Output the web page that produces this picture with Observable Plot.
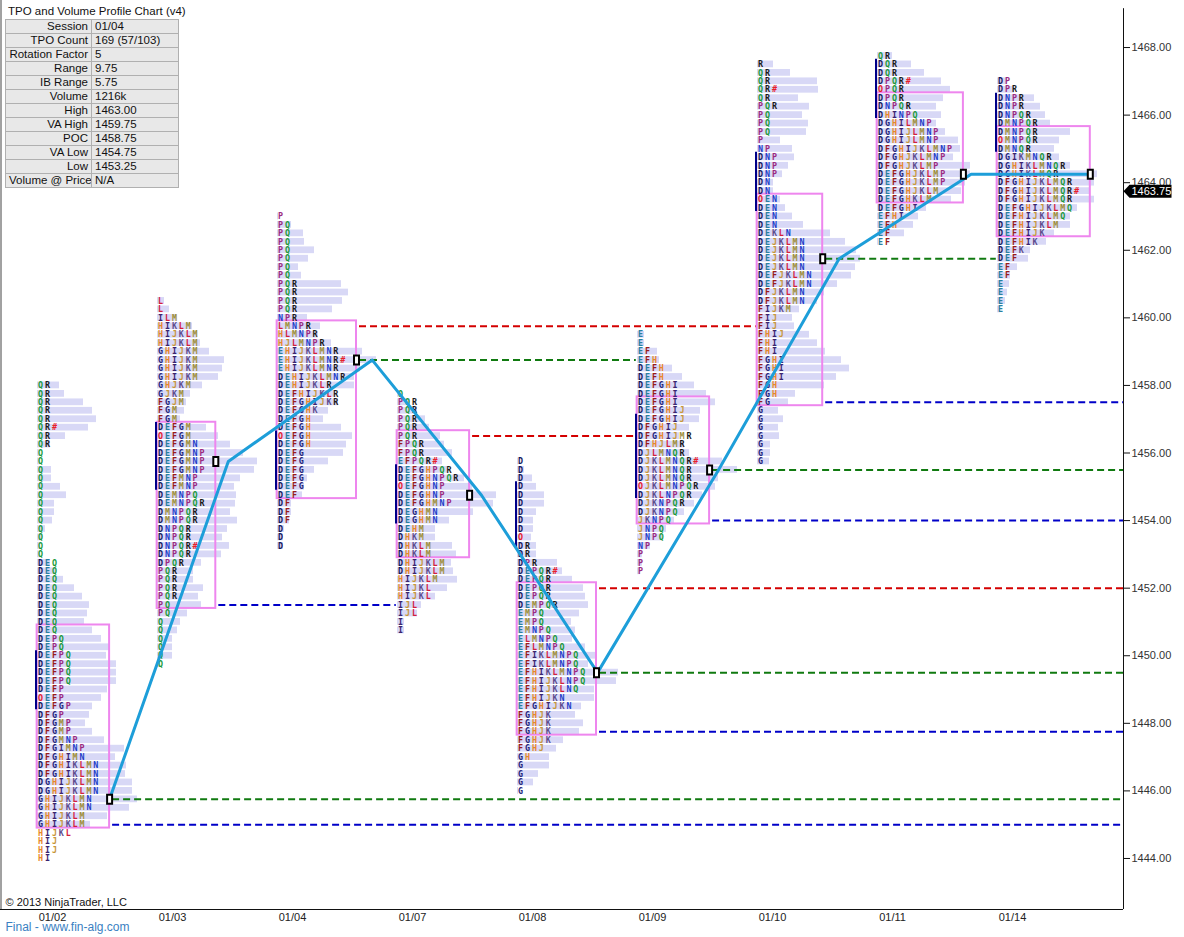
<!DOCTYPE html>
<html><head><meta charset="utf-8">
<script src="https://cdn.jsdelivr.net/npm/d3@7"></script>
<script src="https://cdn.jsdelivr.net/npm/@observablehq/plot@0.6"></script>
<style>
body{margin:0;background:#fff;font-family:"Liberation Sans",Arial,sans-serif;}
#wrap{position:relative;width:1184px;height:937px;overflow:hidden;background:#fff;}
#info{position:absolute;left:5px;top:4px;font-size:11.5px;color:#111;font-family:"Liberation Sans",Arial,sans-serif;}
#info .t{padding-left:3px;height:15px;line-height:15px;white-space:nowrap;}
#info table{border-collapse:collapse;background:#e8e8e8;table-layout:fixed;width:173px;}
#info td{border:1px solid #b0b0b0;padding:0 3px;height:13px;line-height:13px;white-space:nowrap;overflow:hidden;box-sizing:border-box;}
#info td.k{text-align:right;width:86px;}
#info td.v{width:87px;}
</style></head><body><div id="wrap"></div>
<script>
// ---------- data ----------
const sessions = ["01/02","01/03","01/04","01/07","01/08","01/09","01/10","01/11","01/14"];
const sessionTop = [1458.0, 1460.5, 1463.0, 1457.75, 1455.75, 1459.5, 1467.5, 1467.75, 1467.0];
const vaHigh = [1450.75, 1456.75, 1459.75, 1456.5, 1452.0, 1457.5, 1463.5, 1466.5, 1465.5];
const pocPrice = [1445.75, 1455.75, 1458.75, 1454.75, 1449.5, 1455.5, 1461.75, 1464.25, 1464.25];
const vaLow = [1445.0, 1451.5, 1454.75, 1453.0, 1447.75, 1454.0, 1457.5, 1463.5, 1462.5];
const ibHigh = [1450.0, 1456.75, 1456.5, 1455.5, 1455.0, 1457.0, 1464.75, 1467.5, 1466.5];
const ibLow = [1448.5, 1455.0, 1455.0, 1454.0, 1453.25, 1454.75, 1463.25, 1466.0, 1465.0];
const pocLineTime = [0.60, 0.59, 0.79, 0.70, 0.667, 0.675, 0.68, 0.78, 0.78];
const lastPrice = 1463.75;

const tpo0 = "QR QR QR QR QR QR# QR QR Q Q Q Q Q Q Q Q Q Q Q Q Q DEQ DEQ DEQ DEQ DEQ DEQ DEQ DEQ DEQ DEPQ DEPQ DEFPQ DEFPQ DEFPQ DEFPQ DEFP OEFP DEFGP DFGP DFGMP DFGMP DFGMNP DFGIMNP DFGHIMN DFGHIKLMN DFGHIKLMN DGHIJKLMN DGHIJKLMN GHIJKLMN GHIJKLMN GHIJKLM GHIJKLM HIJKL HIJ HIJ HI";
const tpo1 = "L L ILM HIKLM HIJKLM HIJKLM GHIJKM GHIJKM GHIJKM GHIJKM GHJKM GJKM FGJM FGM FGM DEFGM OEFGM DEFGMN DEFGMNP DEFGMNP DEFGMNP DEFMNP DEFMNP DEMNPQ DEMNPQR DMNPQR DMNPQR DNPQR DNPQR DNPQR# DNPQR DPQR PQR PQR PQR PQR PQ PQ Q Q Q Q Q Q";
const tpo2 = "P PQ PQ PQ PQ PQ PQ PQ PQR PQR PQR PQR NPR LMNPR HLMNPR HJLMNPR EHIJKLMNR EHIJKLMNR# EHIJKLMNR DEHIJKLMNR DEHIJKLR DEFHIJKLR DEFGHIJKR DEFGHK DEFGH DEFGH OEFGH DEFGH DEFG DEFG DEFG DEFG DEFG DEF DF DF DF D D D";
const tpo3 = "Q PQR PQR PQR PQR PQR FPQR FPQR EFPQR# DEFGHPQR DEFGHNPQR OEFGHNP DEFGHNP DEFGHMNP DEGHMN DEGHMN DEHM DHKM DHKLM DHKLM DHIJKLM DHIJKLM HIJKLM HIJKL HIJKL IJL IJL I I";
const tpo4 = "D D D D D D D D D O DR DR DPR DEPQR# DEPQR DEPQR DEPQR DEMPQR EMPQ EMPQ EMNPQ ELMNPQ EFLMNPQ EFIKLMNPQ EFIKLMNPQ EFHIKLMNPQ EFHIJKLNPQ EFHIJKLNQ EFHIJKN EFGHIJKN FGHJK FGHJK FGHJK FGHJK FGHJ GH G G G G";
const tpo5 = "E E EF EFH DEFH DEFH DEFGHI DEFGHI DEFGHI DEFGHIJ DEFGHIJ DFGHIJ DFGHIJMR DFHJLMR DJLMNQR DJKLMNQR# DJKLMNQR DJKLMNQR OJKLMNPQR DJKLNPQR DJKNPQR DJKNPQ JKNPQ JNPQ JNPQ NP P P P";
const tpo6 = "R QR QR QR# QR PQR PQ PQ PQ P NP DNP DNP DNP DN DN OEN DEN DEN DEN DEKLN DEJKLMN DEJKLMN DEJKLMN DEJKLMN DEFJKLMN DEFJKLMN DFJKLMN DFJKLMN FIJKM FIJ FIJ FHIJ FHI FHI FGHI FGHI FGHI FGH FGH FG G G G G G G G";
const tpo7 = "QR DQR DQR DPQR# OPQR DPQR DNPQR DHINPQ DGHILMNP DGHIJLMNP DGHIJLMNP DFGHIJKLMNP DFGHJKLMNP DFGHJKLMP DEFGHJKLMP DEFGHJKLMP DEFGHJKLM DEFGHKLM DEFGHI EFHI EFH EF EF";
const tpo8 = "DP DPR DNPR DNPR DNPQR DMNPQR DMNPQR OMNPQR DMNQR DGIKMNQR DGHIKLMNQR DGHIKLMQR DFGHIJKLMQR DFGHIJKLMQR# DFGHIJKLMQR DEFGHIJKLMQ DEFHIJKLMQ DEFHIJKLM DEFHIJK DEFHIK DEFK DEF EF EF E E E E";
const tpoRows = [tpo0,tpo1,tpo2,tpo3,tpo4,tpo5,tpo6,tpo7,tpo8].map(s => s.split(" "));

// relative volume at each price row (top to bottom)
const vol0 = [22,27,46,55,59,51,28,13,2,3,14,14,23,29,17,17,15,8,5,3,3,13,19,26,37,45,52,50,47,55,64,72,69,79,79,79,70,64,55,52,48,55,67,87,78,89,88,95,95,100,92,70,53,0,0,0,0];
const vol1 = [7,12,19,35,40,43,52,67,65,61,45,33,29,27,23,49,61,73,86,100,97,83,77,79,78,73,80,70,65,72,64,44,36,36,46,41,44,30,23,20,15,15,15,3];
const vol2 = [1,14,26,27,37,31,21,24,64,71,65,55,30,43,41,54,85,99,83,77,77,57,61,51,46,64,75,69,66,51,37,30,27,25,14,14,12,7,6,6];
const vol3 = [2,13,20,28,32,43,47,55,45,50,67,75,99,96,76,52,38,38,55,59,54,56,60,50,38,24,20,7,7];
const vol4 = [1,7,15,19,27,27,19,16,16,14,19,19,40,45,55,66,68,71,62,54,58,55,68,78,71,101,99,77,77,64,58,66,62,46,39,32,32,21,16,1];
const vol5 = [7,7,20,22,35,45,57,69,78,63,62,52,42,47,52,85,100,81,78,65,57,47,37,29,25,13,5,5,3];
const vol6 = [16,33,60,61,41,52,45,51,49,23,35,37,31,25,16,16,23,28,35,46,73,88,99,103,98,94,80,67,60,42,35,37,52,60,68,84,92,79,67,38,31,21,26,21,22,13,13,12];
const vol7 = [15,34,47,64,73,66,59,64,59,68,81,83,76,93,93,88,84,74,49,41,36,27,1];
const vol8 = [10,17,37,43,48,53,73,62,57,62,73,100,97,93,97,80,73,73,57,49,33,31,20,13,12,10,8,3];
const volumes = [vol0,vol1,vol2,vol3,vol4,vol5,vol6,vol7,vol8];

// naked (untouched) value-area levels
const nakedSession = ["01/02","01/02","01/03","01/04","01/04","01/07","01/08","01/08","01/08","01/09","01/09","01/10","01/10"];
const nakedLevel   = ["POC","VAL","VAL","VAH","POC","VAH","VAH","POC","VAL","POC","VAL","POC","VAL"];
const nakedUntil   = [null,null,"01/07","01/10","01/09","01/09",null,null,null,null,null,"01/14",null];

const yTicks = [1444,1446,1448,1450,1452,1454,1456,1458,1460,1462,1464,1466,1468];

const infoLabels = ["Session","TPO Count","Rotation Factor","Range","IB Range","Volume","High","VA High","POC","VA Low","Low","Volume @ Price"];
const infoValues = ["01/04","169 (57/103)","5","9.75","5.75","1216k","1463.00","1459.75","1458.75","1454.75","1453.25","N/A"];

const letterColors = {D:"#14145a",E:"#2a7fa0",F:"#9a1c1c",G:"#22227a",H:"#e8872a",I:"#3a2470",J:"#c8973a",K:"#5e4c8c",L:"#d4203c",M:"#a0903a",N:"#1f3fc8",O:"#e8202a",P:"#9c2a80",Q:"#1a9a3a",R:"#1a1a1a","#":"#e8202a"};

// ---------- derived ----------
const sessionPx = 120;           // px per session slot
const colW = 6.9 / sessionPx;    // one TPO column
const xMin = -37 / sessionPx, xMax = (1123 - 37) / sessionPx;
const yMin = 1442.49, yMax = 1469.392;

const rowsAll = [];
sessions.forEach((s, i) => {
  tpoRows[i].forEach((str, r) => rowsAll.push({i, price: sessionTop[i] - r * 0.25, str, vol: volumes[i][r]}));
});
const letterData = rowsAll.flatMap(d => Array.from(d.str, (ch, j) => ({x: d.i + (j + 0.45) * colW, y: d.price, ch})));
const boxRight = sessions.map((s, i) => {
  const m = d3.max(rowsAll.filter(d => d.i === i && d.price <= vaHigh[i] + 1e-6 && d.price >= vaLow[i] - 1e-6), d => d.str.length);
  return i + (m + 1.45) * colW;
});
const boxes = sessions.map((s, i) => ({x1: i - 0.003, x2: boxRight[i], y1: vaLow[i] - 0.1, y2: vaHigh[i] + 0.16}));
const ibBars = sessions.map((s, i) => ({x: i, y1: ibLow[i] - 0.1, y2: ibHigh[i] + 0.15}));
const pocLine = sessions.map((s, i) => ({x: i + pocLineTime[i], y: pocPrice[i]}));
const markers = sessions.map((s, i) => ({x: boxRight[i], y: pocPrice[i]}));
const levelPrice = {VAH: vaHigh, POC: pocPrice, VAL: vaLow};
const levelColor = {VAH: "#d40000", POC: "#107a10", VAL: "#0000c8"};
const levelLines = nakedSession.map((s, k) => {
  const i = sessions.indexOf(s), u = nakedUntil[k];
  return {x1: boxRight[i] + 0.025, x2: u ? sessions.indexOf(u) - 0.01 : xMax, y: levelPrice[nakedLevel[k]][i], stroke: levelColor[nakedLevel[k]]};
});

const markerSymbol = {draw(ctx) { ctx.rect(-2.5, -4.5, 5, 9); }};
const tagSymbol = {draw(ctx) { ctx.moveTo(0, 0); ctx.lineTo(6, -6.5); ctx.lineTo(48, -6.5); ctx.lineTo(48, 6.5); ctx.lineTo(6, 6.5); ctx.closePath(); }};

const chart = Plot.plot({
  width: 1184, height: 937,
  marginLeft: 0, marginRight: 61, marginTop: 0, marginBottom: 28,
  x: {domain: [xMin, xMax]},
  y: {domain: [yMin, yMax]},
  color: {type: "identity"},
  style: {fontFamily: "Liberation Sans, Arial, sans-serif", fontSize: "11px", background: "white", color: "#111"},
  marks: [
    Plot.rect(rowsAll.filter(d => d.vol > 0), {x1: d => d.i, x2: d => d.i + d.vol / sessionPx, y1: d => d.price - 0.1, y2: d => d.price + 0.1, fill: "#d8d8f6"}),
    Plot.ruleY(levelLines, {x1: "x1", x2: "x2", y: "y", stroke: "stroke", strokeWidth: 2, strokeDasharray: "7,4"}),
    Plot.rect(boxes, {x1: "x1", x2: "x2", y1: "y1", y2: "y2", fill: "none", stroke: "#ee86ee", strokeWidth: 2}),
    Plot.text(letterData, {x: "x", y: "y", text: "ch", fill: d => letterColors[d.ch], fontFamily: "DejaVu Sans Mono, Liberation Mono, monospace", fontWeight: "bold", fontSize: 8.4}),
    Plot.ruleX(ibBars, {x: "x", y1: "y1", y2: "y2", stroke: "#000088", strokeWidth: 2, dx: -1.5}),
    Plot.line(pocLine, {x: "x", y: "y", stroke: "#1d9ed9", strokeWidth: 3}),
    Plot.dot(markers, {x: "x", y: "y", symbol: markerSymbol, fill: "white", stroke: "black", strokeWidth: 2}),
    // frame
    Plot.ruleX([xMin], {y1: yMin, y2: yMax, stroke: "#444", dx: 0.5}),
    Plot.ruleX([xMax], {y1: yMin, y2: 1469.15, stroke: "#111"}),
    Plot.ruleY([yMin], {x1: xMin, x2: xMax, stroke: "#111"}),
    Plot.axisY(yTicks, {anchor: "right", tickFormat: d => d.toFixed(2), tickSize: 6, tickPadding: 2, fontSize: 11, label: null, fill: "#333"}),
    Plot.axisX(sessions.map((s, i) => i + 0.125), {anchor: "bottom", tickFormat: (d) => sessions[Math.round(d - 0.125)], tickSize: 0, tickPadding: 4, fontSize: 11, label: null, fill: "#222"}),
    Plot.dot([{x: xMax, y: lastPrice}], {x: "x", y: "y", symbol: tagSymbol, fill: "black", stroke: "none"}),
    Plot.text([{x: xMax, y: lastPrice}], {x: "x", y: "y", text: d => d.y.toFixed(2), fill: "white", textAnchor: "start", dx: 8, fontSize: 11}),
    Plot.text(["© 2013 NinjaTrader, LLC"], {frameAnchor: "bottom-left", lineAnchor: "middle", text: d => d, dx: 5, dy: -7, textAnchor: "start", fontSize: 11, fill: "#111"}),
    Plot.text(["Final - www.fin-alg.com"], {frameAnchor: "bottom-left", lineAnchor: "middle", text: d => d, dx: 5, dy: 18, textAnchor: "start", fontSize: 12, fill: "#3a7fc2"})
  ]
});
const wrap = document.getElementById("wrap");
wrap.appendChild(chart);

// info table overlay
const info = document.createElement("div");
info.id = "info";
info.innerHTML = `<div class="t">TPO and Volume Profile Chart (v4)</div><table>${infoLabels.map((k, i) => `<tr><td class="k">${k}</td><td class="v">${infoValues[i]}</td></tr>`).join("")}</table>`;
wrap.appendChild(info);
</script>
</body></html>
